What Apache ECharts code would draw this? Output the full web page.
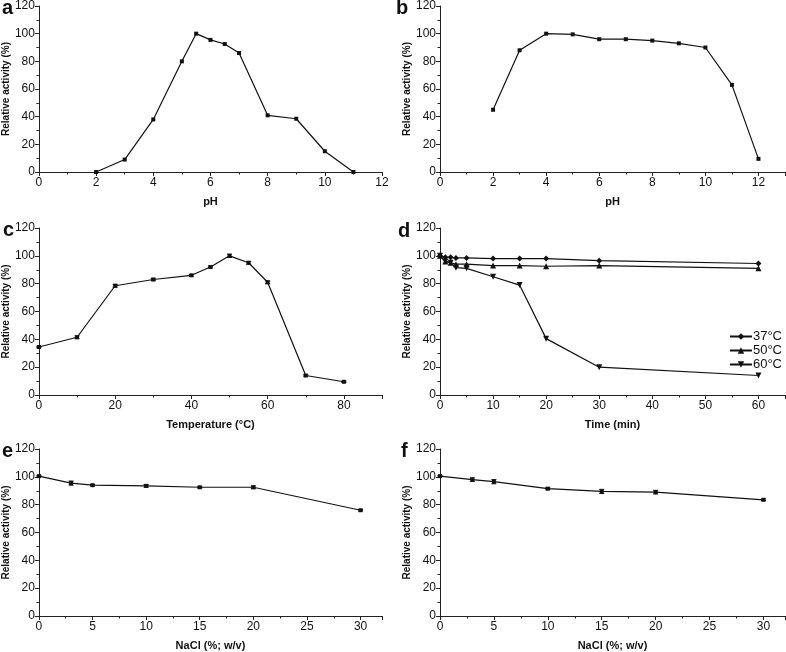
<!DOCTYPE html>
<html><head><meta charset="utf-8">
<script src="https://cdn.jsdelivr.net/npm/echarts@6/dist/echarts.min.js"></script>
<style>html,body{margin:0;padding:0;background:#fff}#c{width:786px;height:652px}</style>
</head><body><div id="c"></div>
<script>
// Panel a: pH optimum
var aPH = [2, 3, 4, 5, 5.5, 6, 6.5, 7, 8, 9, 10, 11];
var aAct = [0, 9, 38, 80, 100, 95.5, 92.5, 86, 41, 38.5, 15, 0];
// Panel b: pH stability
var bPH = [2, 3, 4, 5, 6, 7, 8, 9, 10, 11, 12];
var bAct = [45, 88, 100, 99.5, 96, 96, 95, 93, 90, 63, 9.5];
// Panel c: temperature optimum
var cTemp = [0, 10, 20, 30, 40, 45, 50, 55, 60, 70, 80];
var cAct = [34.5, 41.5, 78.5, 83, 86, 92, 100, 95, 81, 14, 9.5];
var cErr = [0.5, 1, 1, 0.8, 0.6, 0.6, 1.2, 1, 1, 0.5, 0.5];
// Panel d: thermostability
var dTime = [0, 1, 2, 3, 5, 10, 15, 20, 30, 60];
var d37 = [100, 99, 99, 98.5, 98.5, 98, 98, 98, 96.5, 94.5];
var d50 = [100, 96, 95, 94, 94, 93, 93, 92.5, 93, 91];
var d60 = [100, 96, 95, 91.5, 91, 85, 79, 40.5, 20, 14];
var dNames = ['37°C', '50°C', '60°C'];
// Panel e: NaCl activity
var eNaCl = [0, 3, 5, 10, 15, 20, 30];
var eAct = [100.5, 95.5, 94, 93.5, 92.5, 92.5, 76];
var eErr = [0.5, 1.5, 0.5, 1, 0.5, 1, 0.5];
// Panel f: NaCl stability
var fNaCl = [0, 3, 5, 10, 15, 20, 30];
var fAct = [100.5, 98, 96.5, 91.5, 89.5, 89, 83.5];
var fErr = [0.5, 1.3, 1.5, 0.7, 1.5, 1.3, 0.5];
var yTicks = [0, 20, 40, 60, 80, 100, 120];
var letters = ['a', 'b', 'c', 'd', 'e', 'f'];

var grids = [
  {left: 38, top: 5, width: 344, height: 167},
  {left: 440, top: 5, width: 345, height: 167},
  {left: 38, top: 228, width: 344, height: 167},
  {left: 440, top: 228, width: 345, height: 167},
  {left: 38, top: 449, width: 344, height: 168},
  {left: 440, top: 449, width: 345, height: 168}
];
var xCfg = [
  {max: 12, interval: 2, name: 'pH'},
  {max: 13, interval: 2, name: 'pH'},
  {max: 90, interval: 20, name: 'Temperature (°C)'},
  {max: 65, interval: 10, name: 'Time (min)'},
  {max: 32, interval: 5, name: 'NaCl (%; w/v)'},
  {max: 32, interval: 5, name: 'NaCl (%; w/v)'}
];
var lab = {color: '#111', fontFamily: 'Liberation Sans, Arial, sans-serif', fontSize: 12};
var axLine = {lineStyle: {color: '#222', width: 1}};
var xAxes = xCfg.map(function (c, i) {
  return {
    gridIndex: i, type: 'value', min: 0, max: c.max, interval: c.interval,
    name: c.name, nameLocation: 'middle', nameGap: 24,
    nameTextStyle: {fontFamily: 'Liberation Sans, Arial, sans-serif', fontWeight: 'bold', fontSize: 11, color: '#111'},
    axisLine: axLine, axisTick: {show: true, length: 4, lineStyle: {color: '#222'}},
    minorTick: {show: true, splitNumber: 2, length: 2.5, lineStyle: {color: '#222'}},
    axisLabel: Object.assign({margin: 5, showMaxLabel: (i === 0)}, lab),
    splitLine: {show: false}
  };
});
var yAxes = grids.map(function (g, i) {
  return {
    gridIndex: i, type: 'value', min: yTicks[0], max: yTicks[yTicks.length - 1], interval: 20,
    name: 'Relative activity (%)', nameLocation: 'middle', nameGap: 26, nameRotate: 90,
    nameTextStyle: {fontFamily: 'Liberation Sans, Arial, sans-serif', fontWeight: 'bold', fontSize: 10, color: '#111'},
    axisLine: {show: true, lineStyle: {color: '#222', width: 1}},
    axisTick: {show: true, length: 4, lineStyle: {color: '#222'}},
    minorTick: {show: true, splitNumber: 2, length: 2.5, lineStyle: {color: '#222'}},
    axisLabel: Object.assign({margin: 4}, lab),
    splitLine: {show: false}
  };
});
function zip(x, y) { return x.map(function (v, i) { return [v, y[i]]; }); }
function lineSeries(i, x, y, sym, name, rot) {
  return {
    type: 'line', name: name, xAxisIndex: i, yAxisIndex: i, data: zip(x, y),
    symbol: sym || 'rect', symbolSize: sym ? 6 : 4, symbolRotate: rot || 0,
    showSymbol: true, lineStyle: {color: '#111', width: 1.2}, itemStyle: {color: '#111'},
    animation: false, z: 3
  };
}
function errSeries(i, x, y, e) {
  return {
    type: 'custom', xAxisIndex: i, yAxisIndex: i, animation: false, z: 4,
    data: x.map(function (v, k) { return [v, y[k] - e[k], y[k] + e[k]]; }),
    renderItem: function (params, api) {
      var lo = api.coord([api.value(0), api.value(1)]);
      var hi = api.coord([api.value(0), api.value(2)]);
      var w = 2.5, st = {stroke: '#111', lineWidth: 1};
      return {type: 'group', children: [
        {type: 'line', shape: {x1: lo[0], y1: lo[1], x2: hi[0], y2: hi[1]}, style: st},
        {type: 'line', shape: {x1: lo[0] - w, y1: lo[1], x2: lo[0] + w, y2: lo[1]}, style: st},
        {type: 'line', shape: {x1: hi[0] - w, y1: hi[1], x2: hi[0] + w, y2: hi[1]}, style: st}
      ]};
    }
  };
}
var series = [
  lineSeries(0, aPH, aAct),
  lineSeries(1, bPH, bAct),
  lineSeries(2, cTemp, cAct), errSeries(2, cTemp, cAct, cErr),
  lineSeries(3, dTime, d37, 'diamond', dNames[0]),
  lineSeries(3, dTime, d50, 'triangle', dNames[1]),
  lineSeries(3, dTime, d60, 'triangle', dNames[2], 180),
  lineSeries(4, eNaCl, eAct), errSeries(4, eNaCl, eAct, eErr),
  lineSeries(5, fNaCl, fAct), errSeries(5, fNaCl, fAct, fErr)
];
var letterPos = [[2, -2], [396, -2], [3, 220], [398, 221], [2, 441], [401, 441]];
var graphics = letters.map(function (t, i) {
  return {type: 'text', left: letterPos[i][0], top: letterPos[i][1],
    style: {text: t, font: 'bold 20px Liberation Sans, Arial, sans-serif', fill: '#111'}};
});
var chart = echarts.init(document.getElementById('c'), null, {renderer: 'canvas'});
chart.setOption({
  animation: false,
  backgroundColor: '#fff',
  grid: grids,
  xAxis: xAxes,
  yAxis: yAxes,
  legend: {
    data: dNames, orient: 'vertical', right: 4, top: 330, itemGap: 1,
    itemWidth: 22, itemHeight: 8, padding: 0,
    textStyle: {fontFamily: 'Liberation Sans, Arial, sans-serif', fontSize: 13, color: '#111', padding: [0, 0, 0, -4]}
  },
  graphic: graphics,
  series: series
});
</script></body></html>
